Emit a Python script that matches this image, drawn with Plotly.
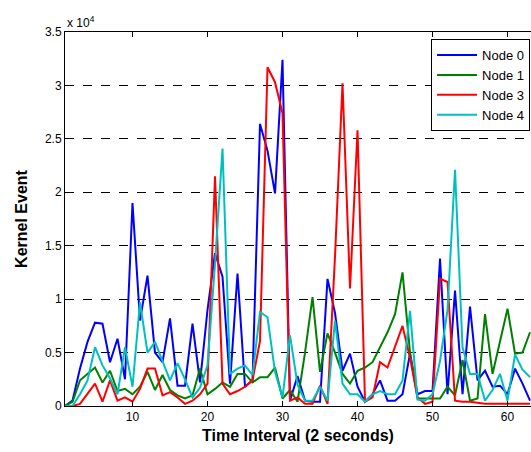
import plotly.graph_objects as go

t = list(range(1, 64))

node0 = [0, 0.05, 0.35, 0.6, 0.78, 0.77, 0.41, 0.63, 0.25, 1.9,
         0.8, 1.22, 0.5, 0.41, 0.82, 0.19, 0.19, 0.77, 0.22, 0.9,
         1.43, 1.21, 0.21, 1.24, 0.18, 0.24, 2.64, 2.39, 1.99, 3.24,
         0.05, 0.28, 0.05, 0.04, 0.04, 1.19, 0.87, 0.33, 0.49, 0.18,
         0.04, 0.11, 0.24, 0.05, 0.05, 0.11, 0.49, 0.11, 0.14, 0.14,
         1.38, 0.11, 1.08, 0.11, 0.93, 0.24, 0.33, 0.18, 0.19, 0.11,
         0.35, 0.21, 0.05]
node1 = [0, 0.04, 0.24, 0.3, 0.36, 0.22, 0.33, 0.14, 0.16, 0.11,
         0.18, 0.32, 0.15, 0.29, 0.15, 0.1, 0.07, 0.1, 0.35, 0.11,
         0.16, 0.22, 0.18, 0.3, 0.3, 0.22, 0.27, 0.27, 0.36, 0.07,
         0.15, 0.04, 0.5, 1.02, 0.32, 0.68, 0.5, 0.3, 0.21, 0.33,
         0.36, 0.41, 0.55, 0.69, 0.86, 1.25, 0.5, 0.07, 0.07, 0.07,
         0.07, 0.18, 0.1, 0.43, 0.05, 0.07, 0.86, 0.3, 0.61, 0.91,
         0.49, 0.5, 0.69]
node3 = [0, 0, 0.02, 0.11, 0.21, 0.04, 0.24, 0.05, 0.08, 0.04,
         0.16, 0.35, 0.35, 0.1, 0.13, 0.08, 0.02, 0.05, 0.11, 0.21,
         2.15, 0.21, 0.11, 0.14, 0.18, 0.24, 0.61, 3.17, 3.03, 2.74,
         0.05, 0.08, 0.02, 0.02, 0.19, 0.02, 1.4, 3.02, 1.1, 2.58,
         0.04, 0.08, 0.41, 0.36, 0.55, 0.75, 0.45, 0.08, 0.02, 0.04,
         1.19, 1.16, 0.05, 0.04, 0.04, 0.03, 0.02, 0.02, 0.02, 0.02,
         0.02, 0.02, 0.02]
node4 = [0, 0, 0.11, 0.24, 0.55, 0.38, 0.26, 0.11, 0.55, 0.18,
         0.97, 0.5, 0.6, 0.41, 0.24, 0.4, 0.25, 0.08, 0.17, 0.38,
         1.33, 2.41, 0.3, 0.35, 0.38, 0.29, 0.88, 0.83, 0.32, 0.08,
         0.66, 0.2, 0.05, 0.05, 0.18, 0.05, 0.8, 0.21, 0.11, 0.11,
         0.04, 0.11, 0.14, 0.11, 0.11, 0.24, 0.89, 0.06, 0.05, 0.11,
         0.42, 0.9, 2.21, 0.55, 0.3, 0.3, 0.05, 0.15, 0.3, 0.05,
         0.48, 0.34, 0.27]

series = [("Node 0", node0, "#0000FF"),
          ("Node 1", node1, "#008000"),
          ("Node 3", node3, "#FF0000"),
          ("Node 4", node4, "#00BFBF")]

yticks = [0, 0.5, 1, 1.5, 2, 2.5, 3, 3.5]
yticklabels = ["0", "0.5", "1", "1.5", "2", "2.5", "3", "3.5"]
xticks = [10, 20, 30, 40, 50, 60]

fig = go.Figure()
for name, vals, col in series:
    fig.add_trace(go.Scatter(x=t, y=vals, mode="lines", name=name,
                             line=dict(color=col, width=2)))

font = "Liberation Sans, Arial, sans-serif"
fig.update_layout(
    width=531, height=452,
    margin=dict(l=65, r=0, t=32, b=46),
    paper_bgcolor="white", plot_bgcolor="white",
    font=dict(family=font, size=12, color="black"),
    showlegend=True,
    legend=dict(x=0.998, y=0.981, xanchor="right", yanchor="top",
                bgcolor="white", bordercolor="black", borderwidth=1,
                font=dict(size=13), tracegroupgap=0, itemwidth=40),
    xaxis=dict(range=[1, 63.13], tickvals=xticks, ticks="inside", ticklen=5,
               showgrid=False, zeroline=False, showline=True, mirror="ticks",
               linecolor="black", linewidth=1, tickcolor="black",
               tickfont=dict(size=12),
               title=dict(text="<b>Time Interval (2 seconds)</b>",
                          font=dict(size=16), standoff=6)),
    yaxis=dict(range=[0, 3.5], tickvals=yticks, ticktext=yticklabels,
               ticks="inside", ticklen=5, showgrid=True, gridcolor="black",
               griddash="dash", gridwidth=1, zeroline=False, showline=True,
               mirror=False, linecolor="black", linewidth=1, tickcolor="black",
               tickfont=dict(size=12),
               title=dict(text="<b>Kernel Event</b>", font=dict(size=16), standoff=13)),
)
fig.add_annotation(text="x 10<sup>4</sup>", xref="paper", yref="paper",
                   x=0, y=1, xanchor="left", yanchor="bottom", showarrow=False,
                   font=dict(size=12), xshift=0, yshift=0)
fig.write_html("out.html", config={"displayModeBar": False},
               post_script="document.body.style.margin='0';document.body.style.overflow='hidden';")
